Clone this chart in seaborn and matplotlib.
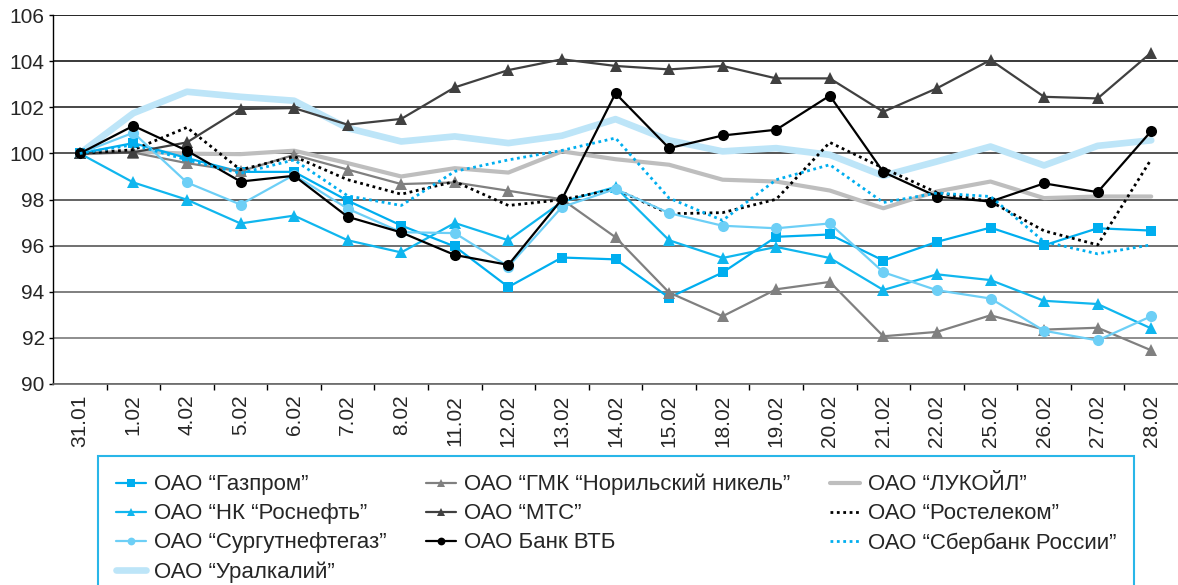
import numpy as np
import matplotlib.pyplot as plt
import seaborn as sns

# dates on the x axis
dates = ["31.01", "1.02", "4.02", "5.02", "6.02", "7.02", "8.02", "11.02", "12.02", "13.02",
         "14.02", "15.02", "18.02", "19.02", "20.02", "21.02", "22.02", "25.02", "26.02", "27.02", "28.02"]

# values (31.01 = 100)
gazprom = [100, 100.45, 99.8, 99.2, 99.2, 97.95, 96.87, 95.96, 94.2, 95.48, 95.4,
           93.74, 94.83, 96.38, 96.48, 95.35, 96.16, 96.78, 96.01, 96.75, 96.65]
norilsk = [100, 100.04, 99.58, 99.22, 99.94, 99.3, 98.67, 98.74, 98.38, 98.01, 96.36,
           93.96, 92.93, 94.1, 94.42, 92.06, 92.25, 92.97, 92.35, 92.43, 91.45]
lukoil = [100, 100.09, 99.99, 99.97, 100.12, 99.58, 99.0, 99.36, 99.17, 100.09, 99.75,
          99.51, 98.86, 98.78, 98.39, 97.62, 98.35, 98.78, 98.06, 98.13, 98.13]
rosneft = [100, 98.74, 97.99, 96.96, 97.3, 96.23, 95.7, 96.98, 96.23, 97.9, 98.54,
           96.23, 95.46, 95.94, 95.46, 94.07, 94.75, 94.5, 93.6, 93.46, 92.4]
mts = [100, 100.05, 100.48, 101.93, 101.97, 101.25, 101.5, 102.87, 103.62, 104.09, 103.8,
       103.65, 103.8, 103.26, 103.26, 101.81, 102.83, 104.06, 102.46, 102.39, 104.38]
rostelecom = [100, 100.16, 101.13, 99.29, 99.87, 98.86, 98.23, 98.78, 97.74, 97.99, 98.45,
              97.38, 97.43, 98.01, 100.48, 99.36, 98.3, 97.91, 96.64, 96.03, 99.75]
surgut = [100, 100.9, 98.74, 97.78, 99.07, 97.6, 96.58, 96.54, 95.09, 97.67, 98.46,
          97.41, 96.86, 96.75, 96.96, 94.84, 94.06, 93.7, 92.3, 91.88, 92.93]
vtb = [100, 101.2, 100.12, 98.78, 99.03, 97.25, 96.57, 95.59, 95.16, 98.01, 102.61,
       100.23, 100.78, 101.03, 102.51, 99.19, 98.13, 97.91, 98.7, 98.32, 100.97]
sberbank = [100, 100.38, 99.72, 99.14, 99.72, 98.16, 97.74, 99.22, 99.72, 100.13, 100.67,
            98.06, 97.09, 98.86, 99.51, 97.87, 98.28, 98.13, 96.17, 95.64, 96.03]
uralkali = [100, 101.75, 102.68, 102.46, 102.29, 101.1, 100.52, 100.74, 100.45, 100.77, 101.49,
            100.57, 100.09, 100.23, 99.94, 99.03, 99.65, 100.3, 99.48, 100.33, 100.57]

sns.set_theme(style="white")
plt.rcParams["font.family"] = ["Liberation Sans", "DejaVu Sans"]

fig = plt.figure(figsize=(11.78, 5.85), dpi=100)
ax = fig.add_axes([53 / 1178, 1 - 383.7 / 585, 1125 / 1178, 368.4 / 585])
x = np.arange(len(dates))

cyan = "#00aeef"
series = {
    "ОАО “Уралкалий”": (uralkali, dict(color="#bde5f8", linewidth=4.8)),
    "ОАО “ЛУКОЙЛ”": (lukoil, dict(color="#bebebe", linewidth=3)),
    "ОАО “Газпром”": (gazprom, dict(color=cyan, linewidth=1.6, marker="s", markersize=7.5)),
    "ОАО “ГМК “Норильский никель”": (norilsk, dict(color="#808080", linewidth=1.6, marker="^", markersize=8.5)),
    "ОАО “НК “Роснефть”": (rosneft, dict(color="#10b6ee", linewidth=1.6, marker="^", markersize=8.5)),
    "ОАО “МТС”": (mts, dict(color="#404040", linewidth=1.6, marker="^", markersize=8.5)),
    "ОАО “Ростелеком”": (rostelecom, dict(color="black", linewidth=2, linestyle=(0, (1, 1.3)))),
    "ОАО “Сургутнефтегаз”": (surgut, dict(color="#6dcff6", linewidth=1.6, marker="o", markersize=8)),
    "ОАО Банк ВТБ": (vtb, dict(color="black", linewidth=1.6, marker="o", markersize=8)),
    "ОАО “Сбербанк России”": (sberbank, dict(color=cyan, linewidth=2, linestyle=(0, (1, 1.3)))),
}

handles = {}
for name, (vals, style) in series.items():
    if "marker" in style:
        style = dict(style, markeredgecolor=style["color"], markeredgewidth=0)
    sns.lineplot(x=x, y=vals, ax=ax, **style)
    handles[name] = ax.get_lines()[-1]

if ax.get_legend() is not None:
    ax.get_legend().remove()

ax.set_xlim(-0.5, len(dates) - 0.5)
ax.set_ylim(90, 106)
ax.set_yticks(np.arange(90, 107, 2))
ax.set_xticks(x, dates, rotation=90)
ax.set_xticks(x[:-1] + 0.5, minor=True)
ax.tick_params(axis="y", left=True, length=3, width=1, color="black", pad=3, labelsize=15)
ax.tick_params(axis="x", which="major", bottom=True, length=0, pad=8, labelsize=15)
ax.tick_params(axis="x", which="minor", bottom=True, length=4, width=1, color="black")
ax.set_xlabel("")
ax.set_ylabel("")

ax.set_axisbelow(True)
ax.yaxis.grid(True, linewidth=1.2)
grid_colors = ["#8a8a8a", "#7a7a7a", "#6a6a6a", "#585858", "#484848", "#383838", "#282828", "#181818", "#000000"]
for gl, c in zip(ax.get_ygridlines(), grid_colors):
    gl.set_color(c)

for side in ["top", "right"]:
    ax.spines[side].set_visible(False)
ax.spines["left"].set_color("black")
ax.spines["left"].set_linewidth(1)
ax.spines["bottom"].set_color("#666666")
ax.spines["bottom"].set_linewidth(1.2)

# legend columns as in the reference (filled column by column)
order = ["ОАО “Газпром”", "ОАО “НК “Роснефть”", "ОАО “Сургутнефтегаз”", "ОАО “Уралкалий”",
         "ОАО “ГМК “Норильский никель”", "ОАО “МТС”", "ОАО Банк ВТБ",
         "ОАО “ЛУКОЙЛ”", "ОАО “Ростелеком”", "ОАО “Сбербанк России”"]
leg = fig.legend([handles[n] for n in order], order, ncol=3, loc="upper left",
                 bbox_to_anchor=(98 / 1178, 1 - 456 / 585), borderaxespad=0, fontsize=16,
                 frameon=True, fancybox=False, edgecolor="#29b6e8", framealpha=1,
                 borderpad=0.8, labelspacing=0.36, columnspacing=1.8,
                 handlelength=1.35, handletextpad=0.35, markerscale=0.7)
leg.get_frame().set_linewidth(1.5)

fig.savefig("out.png", dpi=100)
